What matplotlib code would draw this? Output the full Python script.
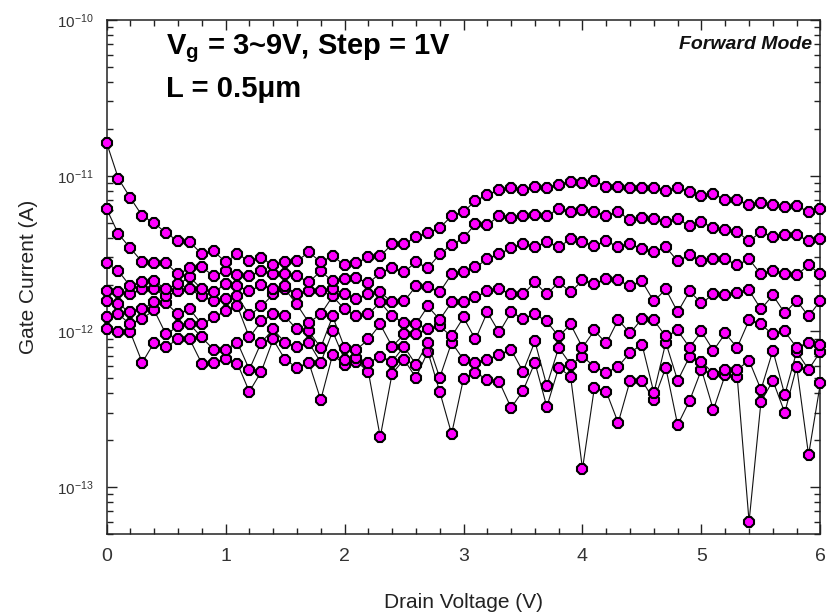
import numpy as np
import matplotlib
matplotlib.use("Agg")
import matplotlib.pyplot as plt
from matplotlib import font_manager
from matplotlib.ticker import MultipleLocator, FixedLocator, LogFormatterSciNotation, NullFormatter

# Drain-voltage sweep (V)
drain_v = np.round(np.arange(0, 61) * 0.1, 1)

# Gate current (pA) for Vg = 9 V ... 3 V, one list per gate bias
ig_vg9 = [16.3, 9.56, 7.21, 5.52, 4.97, 4.29, 3.81, 3.75, 3.14, 3.28,
          2.79, 3.14, 2.83, 2.96, 2.67, 2.79, 2.83, 3.23, 2.79, 3.05,
          2.67, 2.75, 3.00, 3.05, 3.64, 3.64, 4.04, 4.29, 4.62, 5.52,
          5.86, 6.90, 7.54, 8.12, 8.37, 8.12, 8.49, 8.37, 8.75, 9.15,
          9.01, 9.28, 8.49, 8.49, 8.37, 8.37, 8.37, 8.00, 8.37, 7.89,
          7.43, 7.66, 7.00, 7.00, 6.50, 6.70, 6.50, 6.31, 6.41, 5.86, 6.13]
ig_vg8 = [6.13, 4.22, 3.43, 2.79, 2.75, 2.75, 2.33, 2.55, 2.59, 2.27,
          2.44, 2.30, 2.27, 2.44, 2.33, 2.33, 2.27, 2.07, 2.44, 2.10,
          2.17, 2.20, 2.04, 2.37, 2.55, 2.40, 2.79, 2.55, 3.14, 3.59,
          3.98, 4.90, 4.83, 5.52, 5.36, 5.52, 5.60, 5.52, 6.13, 5.86,
          6.04, 5.86, 5.52, 5.86, 5.20, 5.36, 5.28, 5.05, 5.28, 4.76,
          5.05, 4.62, 4.48, 4.35, 3.81, 4.35, 4.04, 4.16, 4.16, 3.81, 3.92]
ig_vg7 = [2.75, 2.44, 1.95, 2.07, 2.10, 1.87, 2.01, 2.23, 1.87, 1.79,
          2.01, 1.95, 1.81, 1.98, 1.87, 1.95, 1.73, 1.81, 1.81, 1.87,
          1.73, 1.61, 1.73, 1.79, 1.54, 1.56, 1.95, 1.92, 1.79, 2.33,
          2.40, 2.59, 2.91, 3.14, 3.43, 3.64, 3.48, 3.75, 3.48, 3.92,
          3.75, 3.54, 3.81, 3.48, 3.64, 3.38, 3.23, 3.48, 2.83, 3.09,
          2.83, 2.91, 2.91, 2.67, 2.91, 2.33, 2.44, 2.33, 2.30, 2.67, 2.33]
ig_vg6 = [1.81, 1.79, 1.73, 1.87, 1.87, 1.68, 1.81, 1.87, 1.68, 1.56,
          1.61, 1.68, 1.27, 1.45, 1.73, 1.87, 1.49, 1.14, 1.29, 1.68,
          1.39, 1.25, 1.29, 1.54, 1.25, 1.14, 1.11, 1.45, 1.19, 1.54,
          1.54, 1.66, 1.81, 1.87, 1.73, 1.73, 2.07, 1.73, 2.07, 1.79,
          2.13, 2.01, 2.17, 2.13, 1.95, 2.10, 1.56, 1.87, 1.33, 1.81,
          1.52, 1.73, 1.71, 1.76, 1.84, 1.39, 1.71, 1.31, 1.58, 1.25, 1.58]
ig_vg5 = [1.56, 1.49, 1.33, 1.39, 1.54, 1.52, 1.29, 1.39, 1.11, 1.23,
          1.35, 1.45, 0.915, 1.16, 1.29, 1.25, 1.03, 1.00, 0.788, 1.25,
          0.788, 0.765, 0.888, 1.11, 0.800, 0.956, 0.956, 1.03, 1.08, 0.928,
          1.23, 0.888, 1.33, 0.985, 1.33, 1.21, 1.29, 1.16, 0.928, 1.11,
          0.788, 1.015, 0.837, 1.19, 0.971, 1.21, 1.18, 0.928, 1.015, 0.788,
          1.00, 0.754, 0.971, 0.788, 1.18, 1.11, 0.956, 1.00, 0.788, 0.849, 0.824]
ig_vg4 = [1.23, 1.29, 1.11, 1.21, 1.37, 0.956, 1.08, 1.11, 0.915, 0.765,
          0.765, 0.849, 0.569, 0.849, 1.03, 0.849, 0.800, 0.849, 0.631, 1.00,
          0.660, 0.680, 0.631, 0.690, 0.641, 0.800, 0.613, 0.849, 0.505, 0.849,
          0.660, 0.631, 0.660, 0.710, 0.765, 0.552, 0.862, 0.449, 0.788, 0.613,
          0.690, 0.595, 0.544, 0.595, 0.732, 0.824, 0.404, 0.849, 0.483, 0.690,
          0.641, 0.536, 0.569, 0.569, 0.650, 0.423, 0.754, 0.392, 0.743, 0.569, 0.743]
ig_vg3 = [1.03, 0.985, 0.985, 0.631, 0.849, 0.800, 0.888, 0.888, 0.622, 0.631,
          0.670, 0.622, 0.410, 0.552, 0.888, 0.660, 0.586, 0.631, 0.364, 0.710,
          0.613, 0.641, 0.552, 0.210, 0.536, 0.660, 0.505, 0.743, 0.410, 0.220,
          0.498, 0.544, 0.491, 0.476, 0.323, 0.416, 0.631, 0.328, 0.586, 0.513,
          0.131, 0.436, 0.410, 0.259, 0.483, 0.483, 0.364, 0.586, 0.251, 0.359,
          0.569, 0.314, 0.528, 0.513, 0.060, 0.354, 0.483, 0.301, 0.595, 0.161, 0.469]

series = [ig_vg3, ig_vg4, ig_vg5, ig_vg6, ig_vg7, ig_vg8, ig_vg9]

# Decade ticks on the current axis
y_major = [1e-13, 1e-12, 1e-11, 1e-10]
y_minor = [m * 10.0 ** e for e in (-14, -13, -12, -11) for m in range(2, 10)]

# Fonts: a narrow sans if available
names = {f.name for f in font_manager.fontManager.ttflist}
narrow = "Liberation Sans Narrow" if "Liberation Sans Narrow" in names else "Liberation Sans"
plt.rcParams["font.family"] = [narrow, "DejaVu Sans"]
plt.rcParams["mathtext.default"] = "regular"

fig = plt.figure(figsize=(8.28, 6.16), dpi=100)
ax = fig.add_axes([0.1287, 0.1331, 0.8622, 0.8344])

for ig in series:
    ax.plot(drain_v, np.asarray(ig) * 1e-12, "-", color="#111111", lw=0.8,
            marker="8", ms=8, mfc="#ff00ff", mec="black", mew=1.5,
            clip_on=False, zorder=3)

ax.set_yscale("log")
ax.set_xlim(0, 6)
ax.set_ylim(5e-14, 1e-10)

ax.xaxis.set_major_locator(MultipleLocator(1))
ax.xaxis.set_minor_locator(MultipleLocator(0.2))
ax.yaxis.set_major_locator(FixedLocator(y_major))
ax.yaxis.set_major_formatter(LogFormatterSciNotation())
ax.yaxis.set_minor_locator(FixedLocator([t for t in y_minor if 5e-14 <= t <= 1e-10]))
ax.yaxis.set_minor_formatter(NullFormatter())
ax.xaxis.set_minor_formatter(NullFormatter())

ax.tick_params(which="both", direction="in", top=True, right=True, width=1.0,
               colors="#222222", labelcolor="#333333")
ax.tick_params(which="major", length=7)
ax.tick_params(which="minor", length=4)
ax.tick_params(axis="x", which="major", labelsize=14, pad=10)
ax.tick_params(axis="y", which="major", labelsize=11, pad=9)
for s in ax.spines.values():
    s.set_linewidth(1.1)
    s.set_color("#222222")

ax.set_xlabel("Drain Voltage (V)", fontsize=15, color="#222222", labelpad=20)
ax.set_ylabel("Gate Current (A)", fontsize=15, color="#222222", labelpad=14)

ax.text(0.083, 0.945, r"V$_{g}$ = 3~9V, Step = 1V", transform=ax.transAxes,
        fontsize=21, fontweight="bold", ha="left", va="center", color="black")
ax.text(0.083, 0.866, "L = 0.5\u03bcm", transform=ax.transAxes,
        fontsize=21, fontweight="bold", ha="left", va="center", color="black")
ax.text(0.988, 0.952, "Forward Mode", transform=ax.transAxes,
        fontsize=14, fontweight="bold", fontstyle="italic", ha="right", va="center",
        color="#111111")

fig.savefig("out.png", dpi=100)
